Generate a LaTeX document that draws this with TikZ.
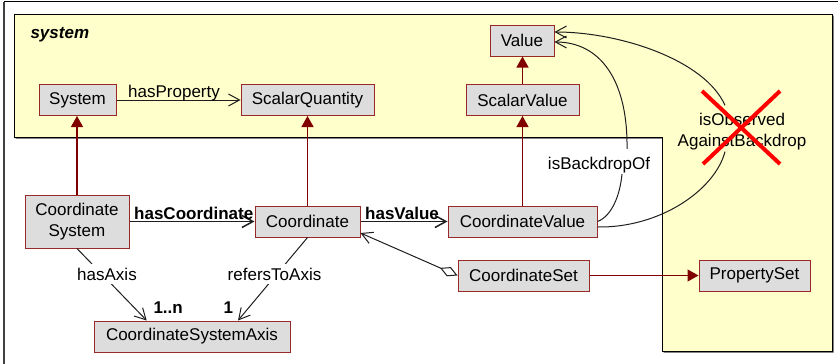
\documentclass[tikz,border=0pt]{standalone}
\usepackage{fontspec}
\setmainfont{Liberation Sans}
\usetikzlibrary{arrows.meta}
\definecolor{pkgyellow}{RGB}{255,255,204}
\definecolor{boxfill}{RGB}{221,221,221}
\definecolor{boxborder}{RGB}{153,40,40}
\definecolor{inhred}{RGB}{128,0,0}
\definecolor{framegray}{RGB}{64,64,64}
\definecolor{linegray}{RGB}{30,30,30}
\begin{document}
\begin{tikzpicture}[x=1pt,y=-1pt,
  every node/.style={font=\fontsize{17}{21}\selectfont},
  umlbox/.style={draw=boxborder,fill=boxfill,line width=1pt,inner sep=0pt,minimum height=31pt},
  inh/.style={draw=inhred,line width=1.2pt,-{Triangle[length=11pt,width=12pt]}},
  assoc/.style={draw=linegray,line width=1pt,-{Straight Barb[length=11pt,width=12pt]}},
  plainline/.style={draw=linegray,line width=1pt},
  lbl/.style={inner sep=1pt},
  boldlbl/.style={inner sep=1pt,font=\fontsize{17}{21}\selectfont\bfseries},
]
\useasboundingbox (0,0) rectangle (838,364);
% outer frame
\draw[framegray,line width=2pt] (4,364) -- (4,1.5);
\draw[black,line width=1pt] (4,1.5) -- (838,1.5);
% package
\fill[framegray] (15.5,15.5) -- (833.5,15.5) -- (833.5,352.5) -- (663.5,352.5) -- (663.5,138.5) -- (15.5,138.5) -- cycle;
\filldraw[fill=pkgyellow,draw=black,line width=0.8pt] (14,14) -- (832,14) -- (832,351) -- (662,351) -- (662,137) -- (14,137) -- cycle;
\node[anchor=base west,font=\fontsize{17}{21}\selectfont\bfseries\itshape] (pkglbl) at (27,38.3) {system};
% nodes
\node[umlbox,minimum width=77pt] (sys) at (77.5,100) {System};
\node[umlbox,minimum width=133pt] (sq) at (307.5,100) {ScalarQuantity};
\node[umlbox,minimum width=64pt] (val) at (522,40.5) {Value};
\node[umlbox,minimum width=113pt] (sv) at (522.5,100) {ScalarValue};
\node[umlbox,minimum width=104pt,minimum height=53pt,align=center] (csys) at (77,221.5) {Coordinate\\System};
\node[umlbox,minimum width=105pt] (coord) at (307.5,221.5) {Coordinate};
\node[umlbox,minimum width=196pt] (csa) at (192,336.5) {CoordinateSystemAxis};
\node[umlbox,minimum width=149pt] (cv) at (522.5,221.5) {CoordinateValue};
\node[umlbox,minimum width=131pt] (cset) at (523.5,275.5) {CoordinateSet};
\node[umlbox,minimum width=111pt] (ps) at (754.5,275.5) {PropertySet};
% generalisations
\draw[inh] (csys.north) -- (csys.north |- sys.south);
\draw[inh] (coord.north) -- (sq.south);
\draw[inh] (cv.north) -- (sv.south);
\draw[inh] (sv.north) -- (sv.north |- val.south);
\draw[inh] (cset.east) -- (ps.west);
% associations
\draw[assoc] (sys.east) -- (sq.west);
\node[lbl,anchor=base west] (hp) at (127,97.5) {hasProperty};
\draw[assoc,line width=1.5pt] (csys.east) -- (coord.west);
\node[boldlbl,anchor=base west] (hc) at (133,219) {hasCoordinate};
\draw[assoc,line width=1.5pt] (coord.east) -- (cv.west);
\node[boldlbl,anchor=base west] (hv) at (364,219) {hasValue};
\draw[assoc] (csys.south) -- ([xshift=-45.3pt]csa.north);
\node[lbl,fill=white,inner sep=4pt] (ha) at (107,274) {hasAxis};
\draw[assoc] (coord.south) -- ([xshift=46pt]csa.north);
\node[lbl,fill=white,inner sep=4pt] (rta) at (274.5,274) {refersToAxis};
\node[boldlbl,anchor=base west,inner sep=0pt] (m1) at (153.3,313.3) {1..n};
\node[boldlbl,anchor=base west,inner sep=0pt] (m2) at (223.3,313.3) {1};
\draw[draw=linegray,line width=1pt,{Diamond[fill=white,length=19pt,width=10pt]}-{Straight Barb[length=11pt,width=12pt]}] (cset.west) -- ([yshift=-11.5pt]coord.east);
% isBackdropOf
\node[lbl] (bd) at (599,165) {isBackdropOf};
\draw[plainline] (cv.east) .. controls (612,216) and (620,195) .. ([xshift=23pt]bd.south);
\draw[assoc] ([xshift=28pt,yshift=7pt]bd.north) .. controls (628,80) and (600,42) .. ([yshift=-1.5pt]val.east);
% isObservedAgainstBackdrop
\node[lbl,align=center] (obs) at (742,132) {isObserved\\AgainstBackdrop};
\draw[plainline] ([yshift=-5.5pt]cv.east) .. controls (660,228) and (715,190) .. ([xshift=-17pt]obs.south);
\draw[assoc] ([xshift=-17pt,yshift=7pt]obs.north) .. controls (705,60) and (620,32) .. ([yshift=8.5pt]val.east);
% red cross
\draw[red,line width=4pt] (702,91) -- (780,164) (780,91) -- (703,164);
\end{tikzpicture}
\end{document}
